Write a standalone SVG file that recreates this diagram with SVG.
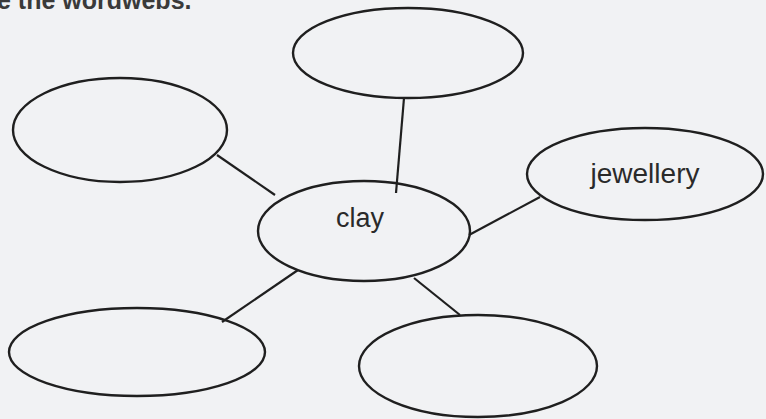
<svg xmlns="http://www.w3.org/2000/svg" width="766" height="419" viewBox="0 0 766 419">
<style>
.bg{fill:#f1f2f4}
.node{fill:none;stroke:#1f1f1f;stroke-width:2.4}
.edge{stroke:#1f1f1f;stroke-width:2.2;fill:none}
.lbl{font-family:"Liberation Sans",Arial,sans-serif;font-size:27px;fill:#2a2a2a;text-anchor:middle}
.hdr{font-family:"Liberation Sans",Arial,sans-serif;font-size:25px;font-weight:bold;fill:#3a3a3a}
</style>
<rect class="bg" width="766" height="419"/>
<text class="hdr" x="-3" y="9">e the wordwebs.</text>
<g id="connectors">
<line class="edge" x1="404" y1="98" x2="396" y2="193"/>
<line class="edge" x1="217" y1="155" x2="275" y2="195"/>
<line class="edge" x1="540" y1="197" x2="469" y2="235"/>
<line class="edge" x1="298" y1="270" x2="222" y2="322"/>
<line class="edge" x1="414" y1="278" x2="460" y2="315"/>
</g>
<g id="clay"><ellipse class="node" cx="364" cy="231" rx="106" ry="50"/><text class="lbl" x="360" y="227">clay</text></g>
<g id="top"><ellipse class="node" cx="408" cy="53" rx="115" ry="45"/></g>
<g id="left"><ellipse class="node" cx="120" cy="130" rx="107" ry="52"/></g>
<g id="jewellery"><ellipse class="node" cx="645" cy="174" rx="118" ry="46"/><text class="lbl" x="645" y="183" style="font-size:28px">jewellery</text></g>
<g id="bottomleft"><ellipse class="node" cx="137" cy="352" rx="128" ry="44"/></g>
<g id="bottomright"><ellipse class="node" cx="478" cy="366" rx="119" ry="51"/></g>
</svg>
